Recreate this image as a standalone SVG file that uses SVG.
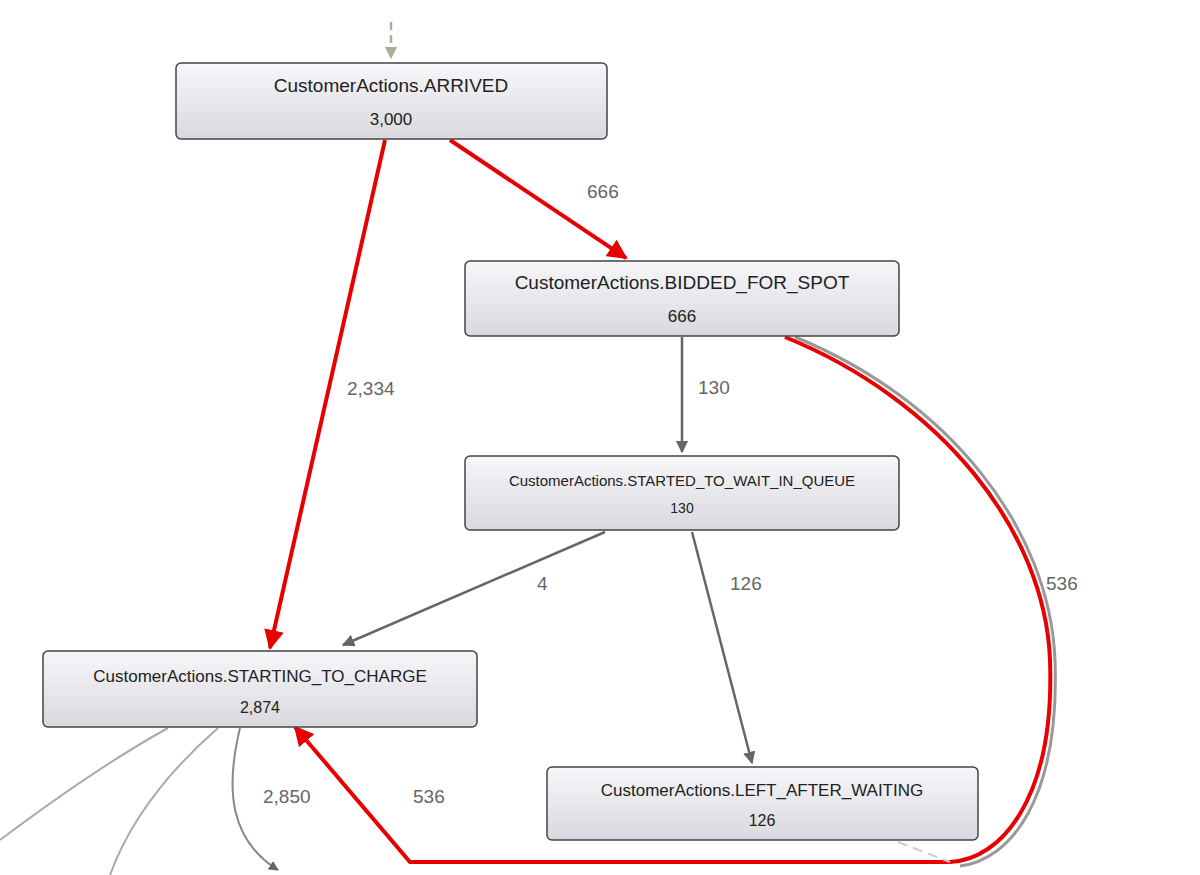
<svg xmlns="http://www.w3.org/2000/svg" width="1200" height="875" viewBox="0 0 1200 875">
<defs>
<linearGradient id="g" x1="0" y1="0" x2="0" y2="1"><stop offset="0" stop-color="#f7f7fa"/><stop offset="1" stop-color="#d8d8de"/></linearGradient>
<marker id="ar" viewBox="0 0 10 10" refX="9" refY="5" markerWidth="5" markerHeight="5" orient="auto"><path d="M0,0L10,5L0,10z" fill="#e80000"/></marker>
<marker id="ag" viewBox="0 0 10 10" refX="9" refY="5" markerWidth="5" markerHeight="5" orient="auto"><path d="M0,0L10,5L0,10z" fill="#666"/></marker>
<marker id="al" viewBox="0 0 10 10" refX="9" refY="5" markerWidth="5" markerHeight="5" orient="auto"><path d="M0,0L10,5L0,10z" fill="#a8b09c"/></marker>
</defs>
<style>
.n{fill:url(#g);stroke:#444;stroke-width:1.5}
.t{font-family:"Liberation Sans",Arial,sans-serif;fill:#222;text-anchor:middle}
.l{font-family:"Liberation Sans",Arial,sans-serif;fill:#666;font-size:19px}
.r{fill:none;stroke:#e80000;stroke-width:4}
.k{fill:none;stroke:#666;stroke-width:2.5}
.s{fill:none;stroke:#aaa;stroke-width:2}
</style>
<rect width="1200" height="875" fill="#fff"/>
<g id="connectors">
<path d="M391,22V58" stroke="#a8b09c" stroke-width="2.5" stroke-dasharray="8,5" fill="none" marker-end="url(#al)"/>
<path class="r" d="M385,140L270,648" marker-end="url(#ar)"/>
<path class="r" d="M450,140L626,258" marker-end="url(#ar)"/>
<path class="k" d="M682,337V452" marker-end="url(#ag)"/>
<path class="k" d="M605,532L343,645" marker-end="url(#ag)"/>
<path class="k" d="M692,532L752,763" marker-end="url(#ag)"/>
<path d="M795,337C950,400 1050,530 1055,660C1060,800 1010,860 960,866" fill="none" stroke="#999" stroke-width="3"/>
<path class="r" d="M785,337C940,400 1045,530 1050,660C1055,800 1000,860 950,862H410L295,727" marker-end="url(#ar)"/>
<path class="s" d="M168,728C110,760 40,810 0,840"/>
<path class="s" d="M218,728C170,770 130,820 110,875"/>
<path d="M240,728C225,790 230,840 278,870" fill="none" stroke="#888" stroke-width="2" marker-end="url(#ag)"/>
<path d="M898,842L950,862" stroke="#ccc" stroke-width="2" stroke-dasharray="10,6" fill="none"/>
<text class="l" x="587" y="198">666</text>
<text class="l" x="347" y="395">2,334</text>
<text class="l" x="698" y="394">130</text>
<text class="l" x="537" y="590">4</text>
<text class="l" x="730" y="590">126</text>
<text class="l" x="1046" y="590">536</text>
<text class="l" x="263" y="803">2,850</text>
<text class="l" x="413" y="803">536</text>
</g>
<g id="n1"><rect class="n" x="176" y="63" width="431" height="76" rx="5"/><text class="t" x="391" y="92" font-size="19">CustomerActions.ARRIVED</text><text class="t" x="391" y="125" font-size="17">3,000</text></g>
<g id="n2"><rect class="n" x="465" y="261" width="434" height="75" rx="5"/><text class="t" x="682" y="289" font-size="19">CustomerActions.BIDDED_FOR_SPOT</text><text class="t" x="682" y="322" font-size="17">666</text></g>
<g id="n3"><rect class="n" x="465" y="456" width="434" height="74" rx="5"/><text class="t" x="682" y="486" font-size="15">CustomerActions.STARTED_TO_WAIT_IN_QUEUE</text><text class="t" x="682" y="513" font-size="14">130</text></g>
<g id="n4"><rect class="n" x="43" y="651" width="434" height="76" rx="5"/><text class="t" x="260" y="682" font-size="17">CustomerActions.STARTING_TO_CHARGE</text><text class="t" x="260" y="713" font-size="16">2,874</text></g>
<g id="n5"><rect class="n" x="547" y="767" width="431" height="73" rx="5"/><text class="t" x="762" y="796" font-size="17">CustomerActions.LEFT_AFTER_WAITING</text><text class="t" x="762" y="826" font-size="16">126</text></g>
</svg>
